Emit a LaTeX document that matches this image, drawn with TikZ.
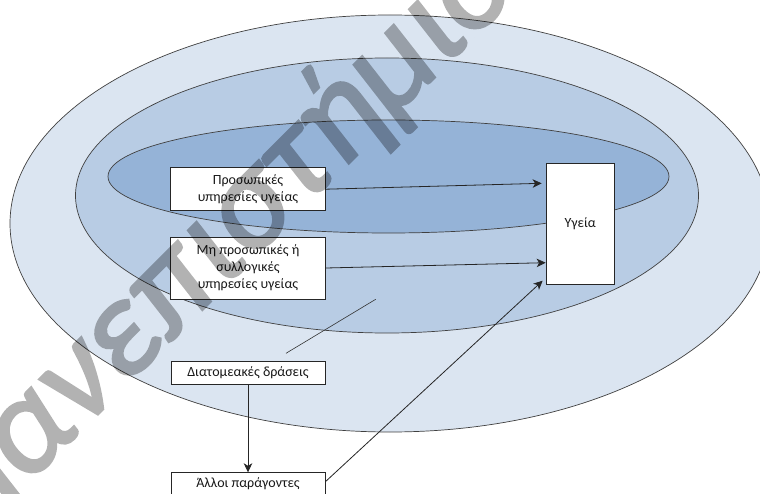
\documentclass[tikz,border=0pt]{standalone}
\usepackage{fontspec}
\setmainfont{Carlito}
\newfontfamily\wmfont{Carlito}[FakeBold=2]
\usetikzlibrary{arrows.meta}
\definecolor{outerblue}{HTML}{DBE5F1}
\definecolor{midblue}{HTML}{B8CCE4}
\definecolor{innerblue}{HTML}{95B3D7}
\begin{document}
\begin{tikzpicture}[x=1pt,y=-1pt,
  ring/.style={draw=black!75, line width=0.7pt},
  box/.style={draw=black!85, fill=white, line width=0.8pt, inner sep=0pt,
    align=center, text=black!90, font=\fontsize{14}{17}\selectfont},
  link/.style={draw=black!85, line width=0.8pt,
    -{Stealth[length=9pt,width=8.5pt,inset=2.5pt]}},
  leader/.style={draw=black!80, line width=0.6pt},
  watermark/.style={text=black, rotate=45,
    font=\wmfont\fontsize{138}{138}\selectfont\itshape}
]
\useasboundingbox (0,0) rectangle (760,494);
\fill[white] (0,0) rectangle (760,494);

% nested fields of action
\filldraw[ring, fill=outerblue] (390,223.5) ellipse [x radius=380, y radius=208.5];
\filldraw[ring, fill=midblue] (387,195.5) ellipse [x radius=311.5, y radius=137.5];
\filldraw[ring, fill=innerblue] (388.5,176.5) ellipse [x radius=280.5, y radius=56.5];

% boxes
\node[box, minimum width=155pt, minimum height=43pt] (personal) at (248,189.2)
  {Προσωπικές\\υπηρεσίες υγείας};
\node[box, minimum width=155pt, minimum height=62pt] (collective) at (248,268)
  {Μη προσωπικές ή\\συλλογικές\\υπηρεσίες υγείας};
\node[box, minimum width=154pt, minimum height=22.6pt] (intersect) at (248,373)
  {Διατομεακές δράσεις};
\node[box, minimum width=154pt, minimum height=22.6pt] (other) at (248,484)
  {Άλλοι παράγοντες};
\node[box, minimum width=68.3pt, minimum height=121pt] (health) at (580.2,223.8)
  {Υγεία};

% influences on health
\draw[link] (personal.east) -- ([shift={(-4,-40.5)}]health.west);
\draw[link] (collective.east) -- ([shift={(0,38.9)}]health.west);
\draw[link] ([shift={(0,-2.3)}]other.east) -- ([shift={(-3,-4)}]health.south west);
\draw[link] (intersect.south) -- (other.north);

% leader line
\coordinate (la) at (375.7,299.3);
\coordinate (lb) at (286,353.3);
\draw[leader] (la) -- (lb);

% watermark, faded as one group so the emboldened outline does not double up
\begin{scope}[transparency group, opacity=0.3]
  \node[watermark] (wm) at (217,242) {Πανεπιστήμιο};
\end{scope}
\end{tikzpicture}
\end{document}
